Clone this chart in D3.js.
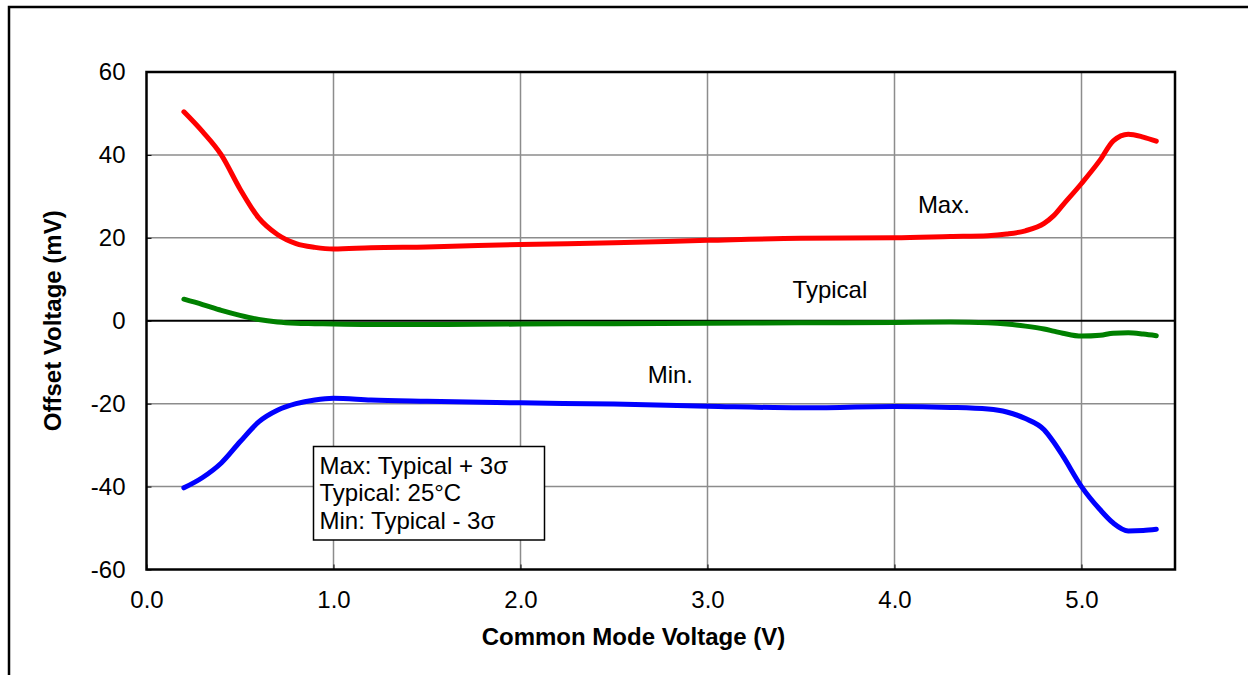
<!DOCTYPE html>
<html>
<head>
<meta charset="utf-8">
<script src="https://cdn.jsdelivr.net/npm/d3@7"></script>
<style>
  body { margin: 0; background: #fff; }
  text { font-family: "Liberation Sans", Arial, sans-serif; fill: #000; }
</style>
</head>
<body>
<div id="chart"></div>
<script>
// common mode voltage sample points (V)
const voltage = [0.2, 0.3, 0.4, 0.5, 0.6, 0.7, 0.8, 0.9, 1.0, 1.2, 1.5, 2.0, 2.5, 3.0, 3.5,
                 4.0, 4.3, 4.5, 4.6, 4.7, 4.8, 4.85, 4.9, 5.0, 5.1, 5.17, 5.25, 5.33, 5.4];
// offset voltage (mV)
const maxVos = [50.4, 45.6, 40.0, 31.8, 24.8, 20.8, 18.6, 17.7, 17.3, 17.6, 17.8, 18.4, 18.8, 19.4, 19.9,
                20.0, 20.3, 20.5, 20.9, 21.7, 23.5, 25.3, 27.9, 33.1, 38.8, 43.4, 45.0, 44.3, 43.3];
const typVos = [5.2, 3.9, 2.5, 1.3, 0.3, -0.3, -0.6, -0.7, -0.8, -0.9, -0.9, -0.8, -0.7, -0.6, -0.5,
                -0.4, -0.3, -0.5, -0.8, -1.3, -2.0, -2.5, -3.0, -3.7, -3.5, -3.0, -2.9, -3.2, -3.6];
const minVos = [-40.3, -37.8, -34.3, -29.2, -24.4, -21.6, -20.0, -19.1, -18.7, -19.1, -19.4, -19.8, -20.1, -20.6, -21.0,
                -20.7, -20.9, -21.3, -22.0, -23.6, -26.3, -29.2, -32.6, -40.0, -45.6, -48.8, -50.7, -50.6, -50.3];

const xTicks = [0, 1, 2, 3, 4, 5];
const yTicks = [-60, -40, -20, 0, 20, 40, 60];
const notes = ["Max: Typical + 3\u03c3", "Typical: 25\u00b0C", "Min: Typical - 3\u03c3"];

const W = 1248, H = 675;
const margin = { top: 72, right: 73, bottom: 105.5, left: 146.5 };
const width = W - margin.left - margin.right;
const height = H - margin.top - margin.bottom;
const fs = "24px";

const svg = d3.select("#chart").append("svg")
    .attr("width", W)
    .attr("height", H);

// outer frame (only left and top edges are in view)
svg.append("path")
    .attr("d", "M9," + H + "V7H" + W)
    .attr("fill", "none")
    .attr("stroke", "#000")
    .attr("stroke-width", 2.5);

const g = svg.append("g")
    .attr("transform", "translate(" + margin.left + "," + margin.top + ")");

const x = d3.scaleLinear().domain([0, 5.5]).range([0, width]);
const y = d3.scaleLinear().domain([-60, 60]).range([height, 0]);

// grid
g.selectAll(".vgrid")
    .data(xTicks.filter(d => d > 0))
    .enter().append("line")
    .attr("x1", d => x(d)).attr("x2", d => x(d))
    .attr("y1", 0).attr("y2", height)
    .attr("stroke", "#8c8c8c").attr("stroke-width", 1.5);

g.selectAll(".hgrid")
    .data(yTicks.filter(d => d > -60 && d < 60 && d !== 0))
    .enter().append("line")
    .attr("x1", 0).attr("x2", width)
    .attr("y1", d => y(d)).attr("y2", d => y(d))
    .attr("stroke", "#8c8c8c").attr("stroke-width", 1.5);

// zero line
g.append("line")
    .attr("x1", 0).attr("x2", width)
    .attr("y1", y(0)).attr("y2", y(0))
    .attr("stroke", "#000").attr("stroke-width", 2.2);

// axes
const xAxis = g.append("g")
    .attr("transform", "translate(0," + height + ")")
    .call(d3.axisBottom(x).tickValues(xTicks).tickFormat(d3.format(".1f")).tickSize(-5).tickPadding(21));
xAxis.select(".domain").remove();
xAxis.selectAll("text").style("font-size", fs).style("font-family", "'Liberation Sans', Arial, sans-serif");

const yAxis = g.append("g")
    .call(d3.axisLeft(y).tickValues(yTicks).tickFormat(d => String(d)).tickSize(-5).tickPadding(21));
yAxis.select(".domain").remove();
yAxis.selectAll("text").style("font-size", fs).style("font-family", "'Liberation Sans', Arial, sans-serif");

// plot border
g.append("rect")
    .attr("width", width).attr("height", height)
    .attr("fill", "none")
    .attr("stroke", "#000")
    .attr("stroke-width", 2.5);

// curves
const line = d3.line()
    .x((d, i) => x(voltage[i]))
    .y(d => y(d))
    .curve(d3.curveMonotoneX);

[[maxVos, "#ff0000"], [typVos, "#008000"], [minVos, "#0000ff"]].forEach(([vals, color]) => {
    g.append("path")
        .datum(vals)
        .attr("d", line)
        .attr("fill", "none")
        .attr("stroke", color)
        .attr("stroke-width", 5)
        .attr("stroke-linecap", "round")
        .attr("stroke-linejoin", "round");
});

// curve labels
g.append("text").attr("x", x(4.125)).attr("y", y(26.1)).style("font-size", fs).text("Max.");
g.append("text").attr("x", x(3.455)).attr("y", y(5.5)).style("font-size", fs).text("Typical");
g.append("text").attr("x", x(2.68)).attr("y", y(-15)).style("font-size", fs).text("Min.");

// note box
const box = g.append("g").attr("transform", "translate(" + (313.5 - margin.left) + "," + (446.5 - margin.top) + ")");
box.append("rect")
    .attr("width", 231).attr("height", 93.5)
    .attr("fill", "#fff")
    .attr("stroke", "#000")
    .attr("stroke-width", 1.5);
box.selectAll(".note")
    .data(notes)
    .enter().append("text")
    .attr("x", 6)
    .attr("y", (d, i) => 27 + i * 27.5)
    .style("font-size", fs)
    .text(d => d);

// axis titles
svg.append("text")
    .attr("x", margin.left + x(2.604))
    .attr("y", 645)
    .style("text-anchor", "middle")
    .style("font-size", fs)
    .style("font-weight", "bold")
    .text("Common Mode Voltage (V)");

svg.append("text")
    .attr("transform", "translate(61," + (margin.top + y(0)) + ") rotate(-90)")
    .style("text-anchor", "middle")
    .style("font-size", fs)
    .style("font-weight", "bold")
    .text("Offset Voltage (mV)");
</script>
</body>
</html>
